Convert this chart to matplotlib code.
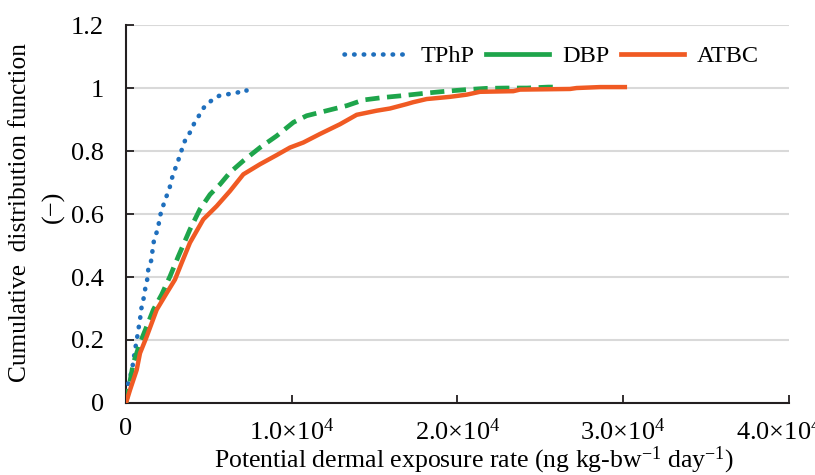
import matplotlib
matplotlib.use('Agg')
import matplotlib.pyplot as plt
import matplotlib.transforms as mtransforms
from matplotlib.lines import Line2D

plt.rcParams['font.family'] = ['Liberation Serif', 'DejaVu Serif']
plt.rcParams['mathtext.fontset'] = 'custom'
plt.rcParams['mathtext.rm'] = 'Liberation Serif'
plt.rcParams['mathtext.it'] = 'Liberation Serif:italic'

# cumulative curves (x in ng kg-bw-1 day-1)
tphp_x = [0, 140, 340, 440, 543, 645, 740, 845, 905, 1045, 1146, 1287, 1347, 1550, 1610, 1710,
          1950, 2010, 2190, 2395, 2610, 2755, 2956, 3157, 3358, 3560, 3860, 4100, 4400, 4700,
          5130, 5610, 6110, 6680, 7220]
tphp_y = [0, 0.068, 0.099, 0.131, 0.168, 0.198, 0.232, 0.263, 0.295, 0.327, 0.359, 0.394, 0.425,
          0.457, 0.491, 0.523, 0.555, 0.586, 0.618, 0.650, 0.678, 0.711, 0.742, 0.771, 0.803,
          0.833, 0.859, 0.886, 0.912, 0.938, 0.959, 0.975, 0.980, 0.985, 0.993]

dbp_x = [0, 440, 845, 1250, 1650, 2150, 2655, 3160, 3860, 4460, 5070, 5670, 6275, 7080, 8085,
         9090, 10100, 10900, 12110, 13320, 14320, 15520, 16530, 18140, 19350, 20560, 21760,
         22970, 24200, 25480, 25880]
dbp_y = [0, 0.126, 0.19, 0.243, 0.296, 0.344, 0.402, 0.466, 0.551, 0.615, 0.662, 0.694, 0.732,
         0.769, 0.811, 0.848, 0.891, 0.912, 0.928, 0.944, 0.962, 0.970, 0.975, 0.984, 0.99,
         0.995, 0.999, 1.0, 1.0, 1.003, 1.003]

atbc_x = [0, 240, 645, 845, 1250, 1850, 2455, 2956, 3360, 3860, 4665, 5470, 6275, 7080, 8085,
          9090, 9895, 10700, 11700, 12910, 13920, 15120, 15930, 16935, 17330, 18140, 19550,
          20560, 21360, 23370, 23770, 26790, 27190, 28600, 30100]
atbc_y = [0, 0.041, 0.105, 0.158, 0.211, 0.296, 0.349, 0.392, 0.445, 0.509, 0.583, 0.625, 0.673,
          0.726, 0.758, 0.787, 0.811, 0.827, 0.854, 0.885, 0.915, 0.928, 0.935, 0.949, 0.955,
          0.965, 0.972, 0.979, 0.988, 0.99, 0.995, 0.997, 1.0, 1.003, 1.003]

x_ticks = [0, 10000, 20000, 30000, 40000]
x_labels = ['0', '1.0\u00d710$^4$', '2.0\u00d710$^4$', '3.0\u00d710$^4$', '4.0\u00d710$^4$']
y_ticks = [0, 0.2, 0.4, 0.6, 0.8, 1.0, 1.2]
y_labels = ['0', '0.2', '0.4', '0.6', '0.8', '1', '1.2']

blue = '#1f6fbd'
green = '#1ea54b'
orange = '#f05a23'

fig = plt.figure(figsize=(8.15, 4.75), dpi=100)
ax = fig.add_axes([0.1546, 0.1516, 0.8134, 0.7957])

ax.grid(axis='y', color='#d9d9d9', linewidth=1.5, zorder=0)
ax.plot(tphp_x, tphp_y, color=blue, linestyle=(0, (0.1, 2.0)), linewidth=3.3,
        dash_capstyle='round', solid_capstyle='round', zorder=3)
# end dot of the dotted series
ax.plot(tphp_x[-1:], tphp_y[-1:], 'o', color=blue, markersize=3.3, markeredgewidth=0, zorder=3)
ax.plot(dbp_x, dbp_y, color=green, linestyle=(0, (3.0, 1.6)), linewidth=3.4, zorder=3)
ax.plot(atbc_x, atbc_y, color=orange, linewidth=3.2, zorder=4)

ax.set_xlim(0, 40000)
ax.set_ylim(0, 1.2)
ax.set_xticks(x_ticks)
ax.set_xticklabels(x_labels)
ax.set_yticks(y_ticks)
ax.set_yticklabels(y_labels)
ax.tick_params(axis='both', direction='in', length=6, width=1.3, labelsize=19, color='#231f20')
ax.tick_params(axis='x', pad=11)
ax.tick_params(axis='y', pad=16)
for s in ['top', 'right']:
    ax.spines[s].set_visible(False)
for s in ['left', 'bottom']:
    ax.spines[s].set_linewidth(1.5)
    ax.spines[s].set_color('#231f20')

# last tick label sits a bit to the left in the original
last = ax.get_xticklabels()[-1]
last.set_transform(last.get_transform() + mtransforms.ScaledTranslation(-10 / 100, 0, fig.dpi_scale_trans))

handles = [Line2D([], [], color=blue, linestyle=(0, (0.1, 2.0)), linewidth=3.3, dash_capstyle='round'),
           Line2D([], [], color=green, linewidth=3.4),
           Line2D([], [], color=orange, linewidth=3.4)]
ax.legend(handles, ['TPhP', 'DBP', 'ATBC'], ncol=3, frameon=False, fontsize=17.5,
          loc='upper right', bbox_to_anchor=(0.988, 1.005), handlelength=2.6,
          handletextpad=0.55, columnspacing=0.45)

fig.text(0.025, 0.552, 'Cumulative  distribution function', rotation=90, fontsize=18.3,
         ha='center', va='center')
fig.text(0.065, 0.564, '(\u2212)', rotation=90, fontsize=19, ha='center', va='center')
fig.text(0.582, 0.03, 'Potential dermal exposure rate (ng kg-bw$^{-1}$ day$^{-1}$)',
         fontsize=18.5, ha='center', va='center')

fig.savefig('out.png', dpi=100)
